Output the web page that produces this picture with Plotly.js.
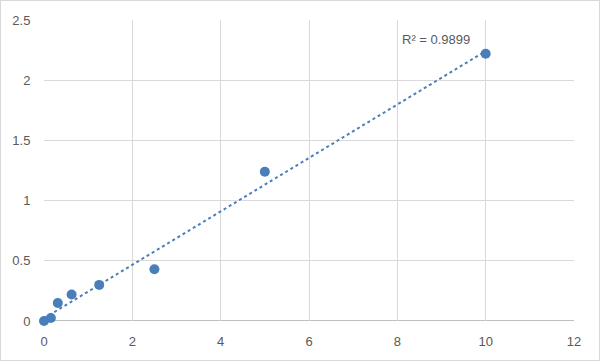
<!DOCTYPE html>
<html><head><meta charset="utf-8">
<script src="https://cdn.plot.ly/plotly-3.0.1.min.js"></script>
<style>html,body{margin:0;padding:0;background:#fff}#c{width:600px;height:361px;box-sizing:border-box;border:1px solid #d9d9d9}</style>
</head><body><div id="c"></div>
<script>
const xValues = [0, 0.156, 0.3125, 0.625, 1.25, 2.5, 5, 10];
const yValues = [0, 0.025, 0.15, 0.22, 0.30, 0.43, 1.24, 2.22];
const r2Label = "R² = 0.9899";

const n = xValues.length;
const mx = xValues.reduce((a,b)=>a+b,0)/n;
const my = yValues.reduce((a,b)=>a+b,0)/n;
let sxy=0, sxx=0;
for (let i=0;i<n;i++){ sxy+=(xValues[i]-mx)*(yValues[i]-my); sxx+=(xValues[i]-mx)**2; }
const slope = sxy/sxx, icpt = my - slope*mx;
const tx = [Math.min(...xValues), Math.max(...xValues)];
const ty = tx.map(x=>icpt+slope*x);

const col = '#4a7ebb';
const data = [
  {x: tx, y: ty, mode:'lines', line:{color:col, width:2, dash:'dot'}, hoverinfo:'skip'},
  {x: xValues, y: yValues, mode:'markers', marker:{color:col, size:10}, cliponaxis:false}
];
const layout = {
  width: 598, height: 359,
  margin:{l:43, r:25, t:19, b:39},
  showlegend:false,
  paper_bgcolor:'#fff', plot_bgcolor:'#fff',
  font:{family:'Liberation Sans, Arial, sans-serif', size:13, color:'#595959'},
  xaxis:{range:[0,12], dtick:2, showgrid:true, gridcolor:'#d9d9d9', gridwidth:1, zeroline:false,
         showline:false, ticks:'outside', ticklen:8, tickcolor:'rgba(0,0,0,0)', fixedrange:true, tickfont:{size:13,color:'#595959'}},
  yaxis:{range:[0,2.5], dtick:0.5, showgrid:true, gridcolor:'#d9d9d9', gridwidth:1, zeroline:false,
         showline:false, ticks:'outside', ticklen:10, tickcolor:'rgba(0,0,0,0)', tickfont:{size:13,color:'#595959'}},
  shapes:[{type:'line', xref:'x', yref:'y', x0:0, x1:12, y0:0, y1:0, layer:'below', line:{color:'#bfbfbf', width:2}}],
  annotations:[{x:10, y:ty[1], xref:'x', yref:'y', text:r2Label, showarrow:false, xanchor:'right', yanchor:'bottom',
    xshift:-14, yshift:2, font:{size:13, color:'#595959'}}]
};
Plotly.newPlot('c', data, layout, {displayModeBar:false, staticPlot:true});
</script></body></html>
